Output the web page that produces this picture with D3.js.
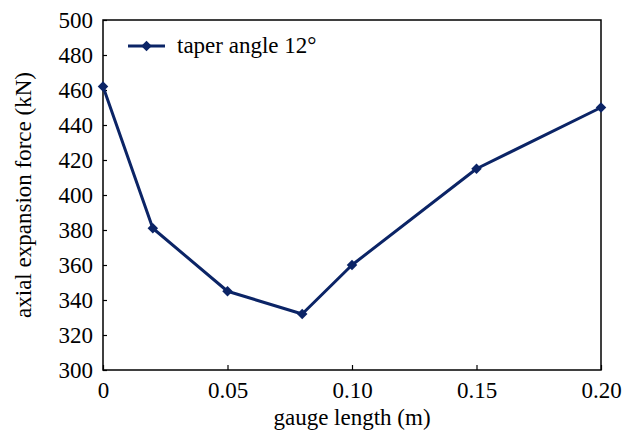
<!DOCTYPE html>
<html>
<head>
<meta charset="utf-8">
<script src="https://cdn.jsdelivr.net/npm/d3@7"></script>
<style>
  body { margin: 0; background: #fff; }
  svg { display: block; }
</style>
</head>
<body>
<svg id="chart" width="624" height="432"></svg>
<script>
// Axial expansion force against gauge length, taper angle 12°
const gaugeLength = [0, 0.02, 0.05, 0.08, 0.10, 0.15, 0.20];
const expansionForce = [462, 381, 345, 332, 360, 415, 450];
const seriesName = "taper angle 12°";
const xTicks = [0, 0.05, 0.10, 0.15, 0.20];
const xTickLabels = ["0", "0.05", "0.10", "0.15", "0.20"];
const yTicks = [300, 320, 340, 360, 380, 400, 420, 440, 460, 480, 500];

const FONT = "'Liberation Serif', 'Times New Roman', 'DejaVu Serif', serif";
const FS = 23;

const svg = d3.select("#chart");
const margin = { left: 103, right: 23, top: 20, bottom: 62 };
const W = 624, H = 432;
const color = "#0b2466";

const x = d3.scaleLinear().domain([0, 0.2]).range([margin.left, W - margin.right]);
const y = d3.scaleLinear().domain([300, 500]).range([H - margin.bottom, margin.top]);

// frame
svg.append("rect")
  .attr("x", x(0)).attr("y", y(500))
  .attr("width", x(0.2) - x(0)).attr("height", y(300) - y(500))
  .attr("fill", "none").attr("stroke", "#000").attr("stroke-width", 1.5);

// y axis: inward ticks
const yAxis = d3.axisLeft(y).tickValues(yTicks).tickSizeInner(-4).tickSizeOuter(0).tickPadding(10);
const gy = svg.append("g").attr("transform", `translate(${x(0)},0)`).call(yAxis)
  .attr("font-family", FONT).attr("font-size", FS);
gy.select(".domain").remove();
gy.selectAll(".tick line").attr("stroke", "#000").attr("stroke-width", 1.2);
gy.selectAll("text").attr("fill", "#000");

// x axis: inward ticks
const xAxis = d3.axisBottom(x).tickValues(xTicks)
  .tickFormat((d, i) => xTickLabels[i]).tickSizeInner(-5).tickSizeOuter(0).tickPadding(10);
const gx = svg.append("g").attr("transform", `translate(0,${y(300)})`).call(xAxis)
  .attr("font-family", FONT).attr("font-size", FS);
gx.select(".domain").remove();
gx.selectAll(".tick line").attr("stroke", "#000").attr("stroke-width", 1.2);
gx.selectAll("text").attr("fill", "#000").attr("y", 28).attr("dy", 0);

// axis titles
svg.append("text")
  .attr("x", (x(0) + x(0.2)) / 2).attr("y", 425)
  .attr("text-anchor", "middle").attr("font-family", FONT).attr("font-size", FS)
  .text("gauge length (m)");
svg.append("text")
  .attr("transform", `translate(31,${(y(300) + y(500)) / 2}) rotate(-90)`)
  .attr("text-anchor", "middle").attr("font-family", FONT).attr("font-size", FS)
  .text("axial expansion force (kN)");

// series line
const pts = gaugeLength.map((g, i) => [g, expansionForce[i]]);
const line = d3.line().x(d => x(d[0])).y(d => y(d[1]));
svg.append("path").datum(pts)
  .attr("d", line).attr("fill", "none")
  .attr("stroke", color).attr("stroke-width", 3).attr("stroke-linejoin", "round");

const diamond = d3.symbol().type(d3.symbolDiamond2).size(70);
svg.append("g").selectAll("path").data(pts).join("path")
  .attr("d", diamond)
  .attr("transform", d => `translate(${x(d[0])},${y(d[1])})`)
  .attr("fill", color);

// legend
const lg = svg.append("g").attr("transform", "translate(128,46)");
lg.append("line").attr("x1", 0).attr("x2", 37).attr("y1", 0).attr("y2", 0)
  .attr("stroke", color).attr("stroke-width", 3);
lg.append("path").attr("d", diamond).attr("transform", "translate(18.5,0)").attr("fill", color);
lg.append("text").attr("x", 49).attr("y", 6.5).attr("font-family", FONT).attr("font-size", FS)
  .text(seriesName);
</script>
</body>
</html>
